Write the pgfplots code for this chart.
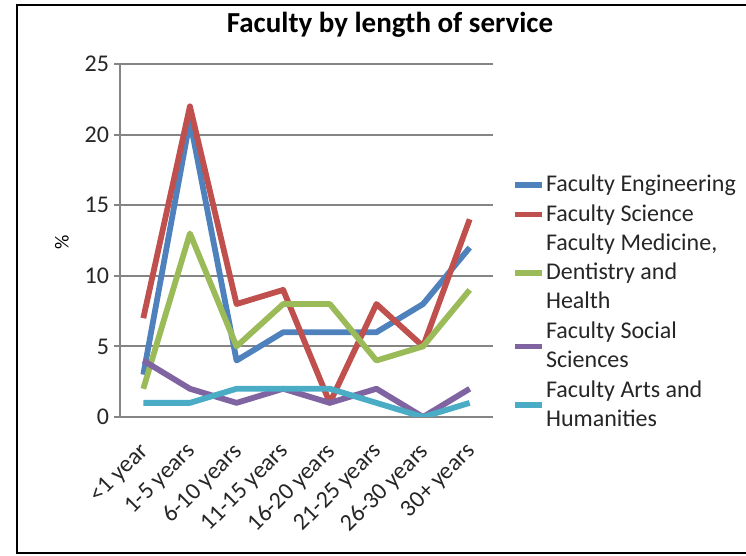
\documentclass[border=0pt]{standalone}
\usepackage{fontspec}
\setmainfont{Carlito}
\usepackage{pgfplots}
\pgfplotsset{compat=1.18}
\definecolor{cEng}{HTML}{4F81BD}
\definecolor{cSci}{HTML}{C0504D}
\definecolor{cMed}{HTML}{9BBB59}
\definecolor{cSoc}{HTML}{8064A2}
\definecolor{cArt}{HTML}{4BACC6}
\definecolor{gridc}{HTML}{858585}
\begin{document}
\begin{tikzpicture}[x=1pt,y=1pt]
\path[use as bounding box] (0,0) rectangle (373,278);
\draw[line width=1.4pt, black] (376,275.5) -- (8.5,275.5) -- (8.5,1.5) -- (376,1.5);
\node[font=\fontsize{14.5}{16}\selectfont\bfseries] at (195,265.5) {Faculty by length of service};
\begin{axis}[
  at={(60pt,69.5pt)}, anchor=south west,
  scale only axis, width=186.5pt, height=176.5pt,
  xmin=-0.5, xmax=7.5, ymin=0, ymax=25,
  xtick={0,...,7},
  xticklabels={{<1 year},{1-5 years},{6-10 years},{11-15 years},{16-20 years},{21-25 years},{26-30 years},{30+ years}},
  ytick={0,5,...,25},
  axis x line*=bottom, axis y line*=left,
  axis line style={gridc, line width=1pt, -},
  ymajorgrids, grid style={gridc, line width=1pt},
  major x tick style={draw=none},
  major y tick style={gridc, line width=1pt},
  tick align=outside, major tick length=3pt,
  /pgf/number format/assume math mode=true,
  ticklabel style={font=\fontsize{12}{14}\selectfont, text=black!85},
  yticklabel style={xshift=1pt},
  xticklabel style={rotate=45, anchor=north east, inner sep=1pt, xshift=-7pt, yshift=-3.5pt},
  ylabel={\%}, ylabel style={font=\fontsize{12.5}{14}\selectfont\bfseries, text=black!85},
  every axis y label/.style={at={(ticklabel cs:0.5)}, rotate=90, anchor=center, yshift=8pt, xshift=-1pt},
  legend cell align=left,
  legend style={draw=none, fill=none, at={(1.035,0.698)}, anchor=north west,
    font=\fontsize{12}{14.5}\selectfont, text=black!85, row sep=5pt,
    nodes={inner ysep=0pt, inner xsep=0.5pt, align=left}},
  legend image code/.code={\draw[line width=2.8pt] (0pt,0pt) -- (13.5pt,0pt);},
  every axis plot/.append style={line width=2.9pt, line join=round, mark=none},
]
\addplot[cEng] coordinates {(0,3) (1,21) (2,4) (3,6) (4,6) (5,6) (6,8) (7,12)};
\addlegendentry{Faculty Engineering}
\addplot[cSci] coordinates {(0,7) (1,22) (2,8) (3,9) (4,1) (5,8) (6,5) (7,14)};
\addlegendentry{Faculty Science}
\addplot[cMed] coordinates {(0,2) (1,13) (2,5) (3,8) (4,8) (5,4) (6,5) (7,9)};
\addlegendentry{Faculty Medicine,\\Dentistry and\\Health}
\addplot[cSoc] coordinates {(0,4) (1,2) (2,1) (3,2) (4,1) (5,2) (6,0) (7,2)};
\addlegendentry{Faculty Social\\Sciences}
\addplot[cArt] coordinates {(0,1) (1,1) (2,2) (3,2) (4,2) (5,1) (6,0) (7,1)};
\addlegendentry{Faculty Arts and\\Humanities}
\end{axis}
\end{tikzpicture}
\end{document}
